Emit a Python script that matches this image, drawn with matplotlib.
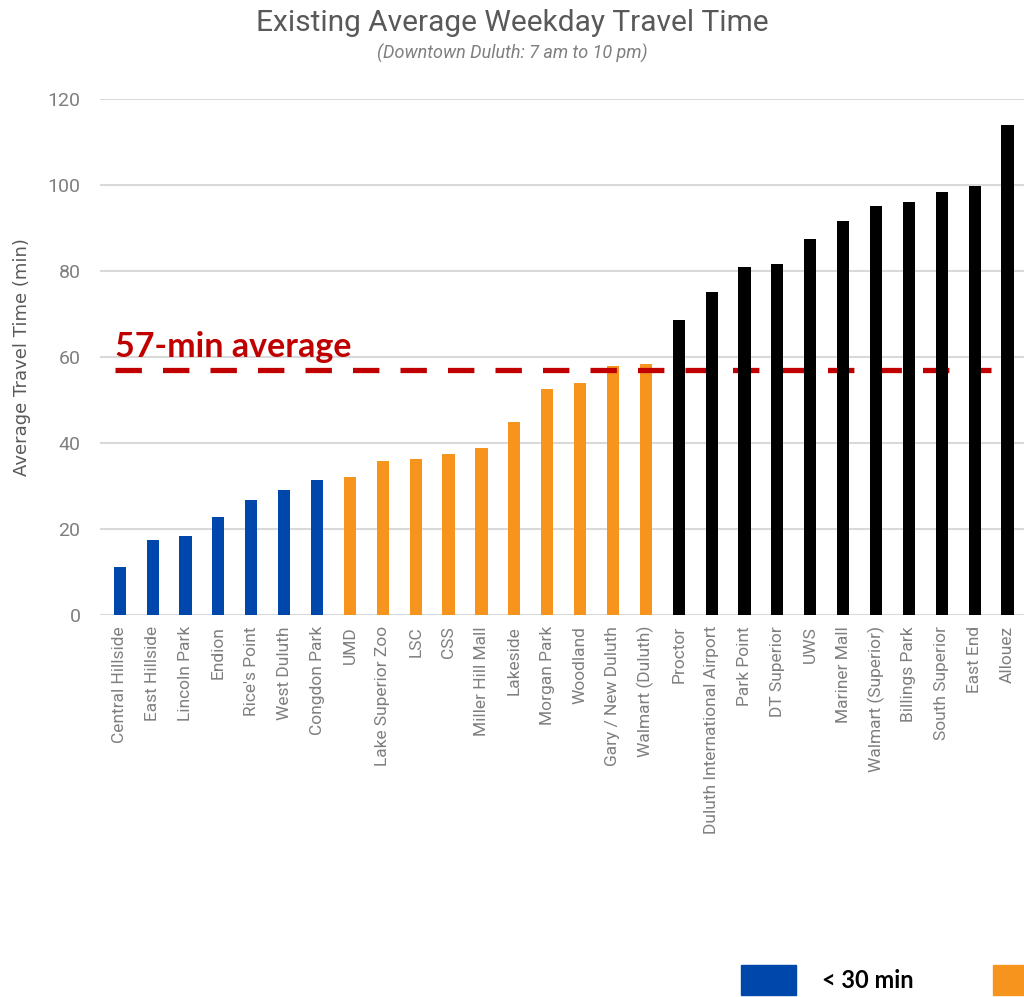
import matplotlib.pyplot as plt
import matplotlib.patches as mpatches
from matplotlib import font_manager

# data
lugares = ["Central Hillside", "East Hillside", "Lincoln Park", "Endion", "Rice's Point",
           "West Duluth", "Congdon Park", "UMD", "Lake Superior Zoo", "LSC", "CSS",
           "Miller Hill Mall", "Lakeside", "Morgan Park", "Woodland", "Gary / New Duluth",
           "Walmart (Duluth)", "Proctor", "Duluth International Airport", "Park Point",
           "DT Superior", "UWS", "Mariner Mall", "Walmart (Superior)", "Billings Park",
           "South Superior", "East End", "Allouez"]
tempos = [11.2, 17.4, 18.4, 22.8, 26.7, 29.0, 31.4, 32.0, 35.8, 36.3, 37.4, 38.8, 44.9,
          52.6, 54.0, 57.9, 58.4, 68.6, 75.1, 80.9, 81.6, 87.4, 91.6, 95.1, 96.0, 98.4,
          99.8, 114.0]
# 0 = azul, 1 = laranja, 2 = preto (como no original)
grupos = [0] * 7 + [1] * 10 + [2] * 11
media = 57
yticks = [0, 20, 40, 60, 80, 100, 120]
legenda_labels = ["< 30 min"]

azul = "#0047AB"
laranja = "#F7941D"
preto = "#000000"
vermelho = "#C00000"
cinza = "#7F7F7F"
cores_grupo = [azul, laranja, preto]

disponiveis = {f.name for f in font_manager.fontManager.ttflist}
estreita = "Liberation Sans Narrow" if "Liberation Sans Narrow" in disponiveis else "Roboto"

fig = plt.figure(figsize=(10.24, 9.97), dpi=100)
ax = fig.add_axes([100 / 1024, (997 - 615) / 997, 924 / 1024, (615 - 99) / 997])

x = list(range(len(lugares)))
for g in range(3):
    xs = [i for i in x if grupos[i] == g]
    ys = [tempos[i] for i in x if grupos[i] == g]
    # linha da media fica por cima das laranjas e por baixo das pretas
    ax.bar(xs, ys, width=0.37, color=cores_grupo[g], zorder=3 if g < 2 else 5)
ax.hlines(media, -0.15, 26.5, color=vermelho, lw=3.8, linestyles=(0, (5, 4)), zorder=4)
ax.text(-0.15, media + 1.6, f"{media}-min average", color=vermelho, fontsize=24.5,
        fontweight="bold", family="Lato", va="bottom", ha="left", zorder=6)

ax.set_xlim(-0.6, 27.5)
ax.set_ylim(0, 120)
ax.set_yticks(yticks)
ax.set_xticks(x)
ax.set_xticklabels(lugares, rotation=90, family=estreita, fontsize=12.5, color=cinza)
for t in ax.get_yticklabels():
    t.set_family(estreita)
    t.set_fontsize(14)
    t.set_color(cinza)
ax.tick_params(length=0, pad=14, axis="y")
ax.tick_params(length=0, pad=8, axis="x")
ax.grid(axis="y", color="#D9D9D9", lw=1.5, zorder=0)
for s in ax.spines.values():
    s.set_visible(False)
ax.set_ylabel("Average Travel Time (min)", fontsize=13, color="#595959", labelpad=12)

fig.text(0.5, 974 / 997, "Existing Average Weekday Travel Time", ha="center", va="center",
         fontsize=21.5, color="#595959", family=estreita)
fig.text(0.5, 944 / 997, "(Downtown Duluth: 7 am to 10 pm)", ha="center", va="center",
         fontsize=13, color=cinza, family=estreita, style="italic")

# legenda manual no rodape (cortada na borda direita como no original)
fig.add_artist(mpatches.Rectangle((741 / 1024, 2 / 997), 55 / 1024, 30 / 997,
                                  transform=fig.transFigure, color=azul))
fig.text(822 / 1024, 17 / 997, legenda_labels[0], fontsize=17, fontweight="bold",
         family="Lato", va="center", ha="left")
fig.add_artist(mpatches.Rectangle((993 / 1024, 2 / 997), 55 / 1024, 30 / 997,
                                  transform=fig.transFigure, color=laranja))

fig.savefig("out.png", dpi=100)
